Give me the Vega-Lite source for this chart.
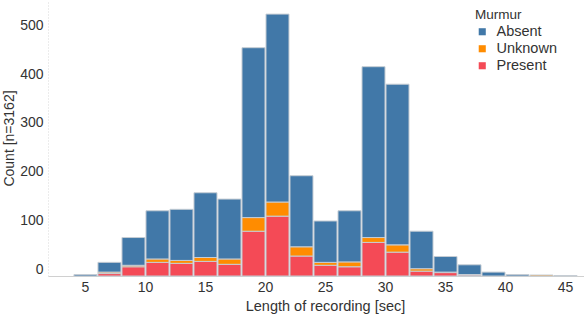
{
  "$schema": "https://vega.github.io/schema/vega-lite/v6.json",
  "autosize": {"type": "none"},
  "padding": {"left": 48, "top": 0, "right": 0, "bottom": 42},
  "width": 536,
  "height": 276,
  "background": "white",
  "config": {
    "font": "Liberation Sans",
    "view": {"stroke": null}
  },
  "data": {
    "values": [
      {"start": 4, "end": 6, "murmur": "Absent", "count": 3},
      {"start": 6, "end": 8, "murmur": "Present", "count": 5},
      {"start": 6, "end": 8, "murmur": "Unknown", "count": 3},
      {"start": 6, "end": 8, "murmur": "Absent", "count": 20},
      {"start": 8, "end": 10, "murmur": "Present", "count": 19},
      {"start": 8, "end": 10, "murmur": "Unknown", "count": 3},
      {"start": 8, "end": 10, "murmur": "Absent", "count": 57},
      {"start": 10, "end": 12, "murmur": "Present", "count": 28},
      {"start": 10, "end": 12, "murmur": "Unknown", "count": 7},
      {"start": 10, "end": 12, "murmur": "Absent", "count": 99},
      {"start": 12, "end": 14, "murmur": "Present", "count": 26},
      {"start": 12, "end": 14, "murmur": "Unknown", "count": 6},
      {"start": 12, "end": 14, "murmur": "Absent", "count": 105},
      {"start": 14, "end": 16, "murmur": "Present", "count": 30},
      {"start": 14, "end": 16, "murmur": "Unknown", "count": 8},
      {"start": 14, "end": 16, "murmur": "Absent", "count": 133},
      {"start": 16, "end": 18, "murmur": "Present", "count": 24},
      {"start": 16, "end": 18, "murmur": "Unknown", "count": 11},
      {"start": 16, "end": 18, "murmur": "Absent", "count": 123},
      {"start": 18, "end": 20, "murmur": "Present", "count": 92},
      {"start": 18, "end": 20, "murmur": "Unknown", "count": 28},
      {"start": 18, "end": 20, "murmur": "Absent", "count": 349},
      {"start": 20, "end": 22, "murmur": "Present", "count": 123},
      {"start": 20, "end": 22, "murmur": "Unknown", "count": 29},
      {"start": 20, "end": 22, "murmur": "Absent", "count": 386},
      {"start": 22, "end": 24, "murmur": "Present", "count": 41},
      {"start": 22, "end": 24, "murmur": "Unknown", "count": 19},
      {"start": 22, "end": 24, "murmur": "Absent", "count": 146},
      {"start": 24, "end": 26, "murmur": "Present", "count": 22},
      {"start": 24, "end": 26, "murmur": "Unknown", "count": 6},
      {"start": 24, "end": 26, "murmur": "Absent", "count": 85},
      {"start": 26, "end": 28, "murmur": "Present", "count": 19},
      {"start": 26, "end": 28, "murmur": "Unknown", "count": 10},
      {"start": 26, "end": 28, "murmur": "Absent", "count": 105},
      {"start": 28, "end": 30, "murmur": "Present", "count": 69},
      {"start": 28, "end": 30, "murmur": "Unknown", "count": 10},
      {"start": 28, "end": 30, "murmur": "Absent", "count": 351},
      {"start": 30, "end": 32, "murmur": "Present", "count": 49},
      {"start": 30, "end": 32, "murmur": "Unknown", "count": 15},
      {"start": 30, "end": 32, "murmur": "Absent", "count": 330},
      {"start": 32, "end": 34, "murmur": "Present", "count": 10},
      {"start": 32, "end": 34, "murmur": "Unknown", "count": 5},
      {"start": 32, "end": 34, "murmur": "Absent", "count": 77},
      {"start": 34, "end": 36, "murmur": "Present", "count": 7},
      {"start": 34, "end": 36, "murmur": "Unknown", "count": 1},
      {"start": 34, "end": 36, "murmur": "Absent", "count": 32},
      {"start": 36, "end": 38, "murmur": "Present", "count": 2},
      {"start": 36, "end": 38, "murmur": "Unknown", "count": 1},
      {"start": 36, "end": 38, "murmur": "Absent", "count": 20},
      {"start": 38, "end": 40, "murmur": "Absent", "count": 8},
      {"start": 40, "end": 42, "murmur": "Absent", "count": 3},
      {"start": 42, "end": 44, "murmur": "Unknown", "count": 2},
      {"start": 44, "end": 46, "murmur": "Absent", "count": 1}
    ]
  },
  "transform": [
    {"calculate": "indexof(['Present','Unknown','Absent'], datum.murmur)", "as": "stackRank"}
  ],
  "mark": {"type": "bar", "stroke": "#c6cdd4", "strokeWidth": 1, "orient": "vertical"},
  "encoding": {
    "x": {
      "field": "start",
      "type": "quantitative",
      "bin": {"binned": true, "step": 2},
      "scale": {"domain": [1.92, 46.58], "nice": false, "zero": false},
      "axis": {
        "title": "Length of recording [sec]",
        "values": [5, 10, 15, 20, 25, 30, 35, 40, 45],
        "format": "d",
        "grid": false,
        "ticks": false,
        "domainColor": "#d0d0d0",
        "labelFontSize": 14,
        "labelColor": "#333333",
        "labelPadding": 4,
        "titleFontSize": 14.5,
        "titleFontWeight": "normal",
        "titleColor": "#333333",
        "titlePadding": 5,
        "titleX": 277,
        "titleAlign": "center"
      }
    },
    "x2": {"field": "end"},
    "y": {
      "field": "count",
      "type": "quantitative",
      "stack": "zero",
      "scale": {"domain": [0, 567], "nice": false},
      "axis": {
        "title": "Count [n=3162]",
        "values": [0, 100, 200, 300, 400, 500],
        "grid": false,
        "ticks": false,
        "domainColor": "#d8d8d8",
        "domainDash": [1, 2],
        "labelFontSize": 14,
        "labelColor": "#333333",
        "labelPadding": 5,
        "labelBaseline": "middle",
        "labelOffset": -7,
        "titleFontSize": 14,
        "titleFontWeight": "normal",
        "titleColor": "#333333",
        "titlePadding": 3
      }
    },
    "color": {
      "field": "murmur",
      "type": "nominal",
      "scale": {
        "domain": ["Absent", "Unknown", "Present"],
        "range": ["#4178a8", "#ff8c00", "#f44a56"]
      },
      "legend": {
        "title": "Murmur",
        "orient": "none",
        "legendX": 427,
        "legendY": 8,
        "symbolType": "square",
        "symbolSize": 50,
        "symbolStrokeWidth": 0,
        "labelFontSize": 14.5,
        "labelColor": "#333333",
        "labelOffset": 7,
        "rowPadding": 2,
        "titleFontSize": 13.5,
        "titleFontWeight": "normal",
        "titleColor": "#333333",
        "titlePadding": 3
      }
    },
    "order": {"field": "stackRank", "type": "quantitative", "sort": "ascending"}
  }
}
